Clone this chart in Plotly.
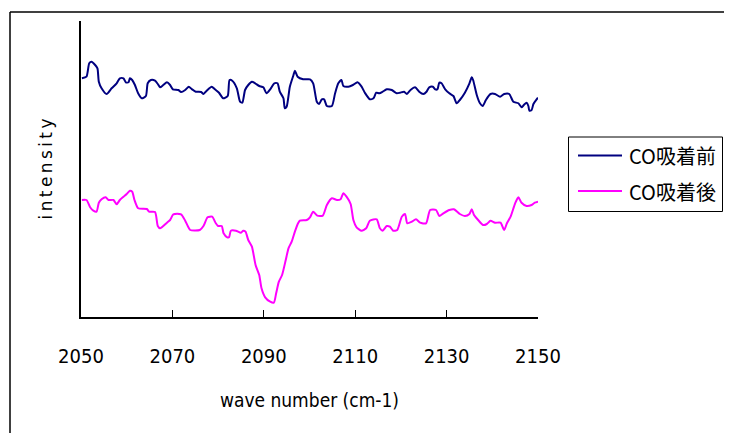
import plotly.graph_objects as go

# ---- data ----
series_names = ["CO吸着前", "CO吸着後"]
series_colors = ["#000080", "#FF00FF"]

before_wn = [2050.2, 2051.2, 2051.8, 2052.3, 2053.1, 2053.6, 2053.9, 2054.5, 2055.6, 2056.7,
             2057.8, 2058.5, 2059.3, 2059.8, 2060.4, 2060.7, 2061.2, 2061.8, 2062.5, 2063.3,
             2064.2, 2064.6, 2065.3, 2066.2, 2066.8, 2067.3, 2068.0, 2068.8, 2069.5, 2070.1,
             2071.3, 2071.9, 2072.8, 2073.6, 2074.2, 2075.1, 2076.3, 2076.8, 2077.5, 2078.6,
             2079.3, 2080.2, 2081.1, 2082.1, 2082.5, 2083.1, 2084.1, 2084.8, 2085.3, 2085.9,
             2086.6, 2087.4, 2088.1, 2089.0, 2089.9, 2090.6, 2091.4, 2092.3, 2093.0, 2093.5,
             2094.3, 2094.6, 2095.0, 2095.7, 2096.5, 2096.8, 2097.4, 2098.6, 2100.1, 2100.8,
             2101.6, 2102.1, 2102.7, 2103.2, 2103.8, 2104.9, 2105.6, 2106.3, 2107.0, 2107.4,
             2108.5, 2109.5, 2110.5, 2111.4, 2112.1, 2113.2, 2114.0, 2114.6, 2115.3, 2116.0,
             2116.9, 2118.0, 2119.1, 2119.8, 2120.7, 2121.3, 2122.1, 2123.1, 2124.0, 2124.9,
             2125.6, 2126.2, 2127.0, 2127.5, 2128.0, 2128.4, 2128.9, 2129.7, 2130.6, 2131.5,
             2132.2, 2132.9, 2134.0, 2135.0, 2135.5, 2135.8, 2136.6, 2137.3, 2137.9, 2138.6,
             2139.6, 2140.6, 2141.7, 2142.6, 2143.7, 2144.6, 2145.7, 2146.4, 2146.9, 2147.5,
             2147.9, 2148.1, 2148.6, 2149.0, 2149.7, 2150.0]
before_int = [234.7, 236.3, 249.7, 251.3, 248.0, 244.7, 231.3, 224.7, 219.0, 224.7,
              229.7, 234.7, 234.7, 230.7, 230.7, 234.7, 233.0, 228.0, 219.7, 214.7,
              217.0, 229.7, 233.0, 232.3, 229.0, 225.7, 228.0, 230.7, 228.0, 223.7,
              223.0, 221.0, 223.0, 226.3, 224.0, 221.3, 221.0, 219.0, 222.3, 226.3,
              223.7, 220.3, 214.7, 217.0, 233.0, 232.3, 224.7, 211.3, 210.3, 223.0,
              228.0, 231.3, 229.7, 227.0, 225.7, 219.7, 223.7, 229.7, 229.7, 221.3,
              214.7, 204.7, 206.3, 226.3, 238.0, 242.3, 236.3, 233.7, 233.7, 229.7,
              211.3, 209.0, 213.7, 213.7, 207.0, 207.0, 219.7, 229.7, 233.0, 227.0,
              226.3, 228.0, 230.7, 226.3, 220.3, 213.7, 214.7, 220.3, 219.7, 221.3,
              223.7, 223.0, 219.7, 220.3, 221.3, 219.0, 223.0, 225.7, 221.3, 219.0,
              221.3, 225.7, 226.3, 223.7, 223.7, 230.3, 229.7, 223.7, 219.7, 217.0,
              209.7, 213.0, 220.3, 229.7, 235.7, 233.0, 218.0, 209.7, 207.0, 213.0,
              219.0, 219.0, 216.3, 219.0, 219.0, 211.3, 209.7, 205.7, 208.0, 210.3,
              207.0, 202.3, 203.0, 209.0, 213.7, 215.3]

after_wn = [2050.2, 2051.2, 2052.0, 2052.7, 2053.4, 2053.9, 2054.5, 2055.4, 2056.0, 2057.1,
            2057.8, 2058.5, 2059.3, 2060.0, 2060.7, 2061.2, 2061.7, 2062.5, 2064.4, 2064.9,
            2066.2, 2066.8, 2067.3, 2068.8, 2069.5, 2070.2, 2071.9, 2072.8, 2073.9, 2076.0,
            2076.8, 2077.7, 2078.7, 2079.5, 2080.0, 2080.8, 2081.2, 2082.0, 2082.4, 2082.8,
            2083.9, 2085.0, 2085.5, 2086.0, 2086.6, 2087.4, 2088.2, 2089.0, 2089.5, 2090.3,
            2091.4, 2092.2, 2092.7, 2093.3, 2094.0, 2094.8, 2095.4, 2096.1, 2096.8, 2097.5,
            2097.9, 2099.4, 2100.1, 2100.8, 2101.7, 2102.9, 2103.8, 2104.9, 2106.0, 2106.8,
            2107.4, 2108.1, 2109.0, 2109.6, 2110.3, 2111.4, 2112.4, 2113.2, 2114.7, 2115.4,
            2116.0, 2116.9, 2117.6, 2118.3, 2119.2, 2120.2, 2120.9, 2121.4, 2122.4, 2123.3,
            2124.2, 2125.5, 2126.4, 2127.7, 2128.4, 2129.3, 2130.6, 2131.6, 2132.9, 2134.0,
            2135.0, 2135.5, 2136.0, 2136.9, 2138.0, 2138.8, 2139.6, 2140.6, 2141.8, 2142.6,
            2143.2, 2144.0, 2145.0, 2145.7, 2146.4, 2147.5, 2148.6, 2149.3, 2150.0]
after_int = [113.0, 113.0, 105.7, 102.3, 101.3, 110.3, 113.7, 115.7, 113.0, 113.0,
             108.7, 113.0, 116.3, 119.0, 122.3, 121.3, 113.0, 104.7, 104.0, 101.3,
             101.0, 87.0, 84.7, 90.3, 93.0, 98.7, 98.7, 92.3, 83.0, 83.0,
             87.0, 95.7, 96.3, 89.7, 87.0, 87.0, 79.7, 75.7, 75.7, 82.3,
             82.3, 80.3, 82.3, 81.3, 73.0, 66.3, 48.0, 38.0, 24.7, 15.7,
             11.3, 10.3, 19.7, 31.3, 38.0, 53.0, 64.7, 71.3, 81.3, 89.7,
             92.3, 93.0, 95.7, 101.3, 97.3, 97.3, 108.0, 114.7, 113.0, 113.7,
             119.7, 116.3, 109.0, 93.0, 85.7, 82.3, 84.7, 92.3, 93.7, 84.7,
             82.3, 87.0, 86.3, 82.3, 83.0, 96.3, 99.0, 89.7, 91.3, 93.7,
             90.3, 89.7, 103.0, 103.0, 97.0, 99.7, 103.0, 103.7, 99.0, 97.0,
             99.0, 103.7, 98.0, 93.0, 88.0, 89.0, 92.3, 90.3, 90.3, 83.0,
             89.7, 96.3, 109.7, 115.7, 110.3, 107.0, 108.0, 110.3, 111.3]

x_ticks = [2050, 2070, 2090, 2110, 2130, 2150]
x_title = "wave number (cm-1)"
y_title = "\u2009".join("intensity")

xs = [before_wn, after_wn]
ys = [before_int, after_int]

fig = go.Figure()
for name, color, x, y in zip(series_names, series_colors, xs, ys):
    fig.add_trace(go.Scatter(x=x, y=y, name=name, mode="lines",
                             line=dict(color=color, width=2, shape="spline", smoothing=0.6),
                             showlegend=False))

narrow = "Liberation Sans Narrow, DejaVu Sans Condensed, Arial, sans-serif"

# page body has an 8px margin, so the figure is 8px smaller and offset
fig.update_layout(
    width=724, height=425,
    margin=dict(l=73, r=194, t=13, b=116),
    paper_bgcolor="white", plot_bgcolor="white",
    xaxis=dict(range=[2050, 2150], tickvals=x_ticks, ticks="inside", ticklen=7,
               tickcolor="black", tickwidth=1, showline=True, linecolor="black",
               linewidth=1.5, showgrid=False, zeroline=False,
               tickfont=dict(family=narrow, size=20, color="black"),
               ticklabelstandoff=20,
               title=dict(text=x_title, standoff=27,
                          font=dict(family=narrow, size=19, color="black"))),
    yaxis=dict(range=[-4, 292], showticklabels=False, ticks="", showline=True,
               linecolor="black", linewidth=1.5, showgrid=False, zeroline=False,
               title=dict(text=y_title, standoff=22,
                          font=dict(family="DejaVu Sans, sans-serif", size=17, color="black"))),
)

# helpers: reference pixel position -> paper fraction of the plot area
def px_x(p):
    return (p - 81) / 457.0

def px_y(p):
    return (317 - p) / 296.0

# outer chart-area frame (top and left edges visible)
fig.add_shape(type="line", xref="paper", yref="paper",
              x0=px_x(10), x1=px_x(740), y0=px_y(12), y1=px_y(12),
              line=dict(color="black", width=1.5))
fig.add_shape(type="line", xref="paper", yref="paper",
              x0=px_x(10), x1=px_x(10), y0=px_y(12), y1=px_y(440),
              line=dict(color="black", width=1.5))

# legend box
fig.add_shape(type="rect", xref="paper", yref="paper",
              x0=px_x(568.5), x1=px_x(722.5), y0=px_y(211.5), y1=px_y(137),
              line=dict(color="black", width=1), fillcolor="white")
legend_rows = [155.5, 191]
for name, color, ry in zip(series_names, series_colors, legend_rows):
    fig.add_shape(type="line", xref="paper", yref="paper",
                  x0=px_x(578), x1=px_x(622), y0=px_y(ry), y1=px_y(ry),
                  line=dict(color=color, width=2))
    fig.add_annotation(xref="paper", yref="paper", x=px_x(627), y=px_y(ry),
                       xanchor="left", yanchor="middle", showarrow=False,
                       text=name, font=dict(family="Noto Sans CJK JP", size=20, color="black"))

fig.write_html("out.html")
